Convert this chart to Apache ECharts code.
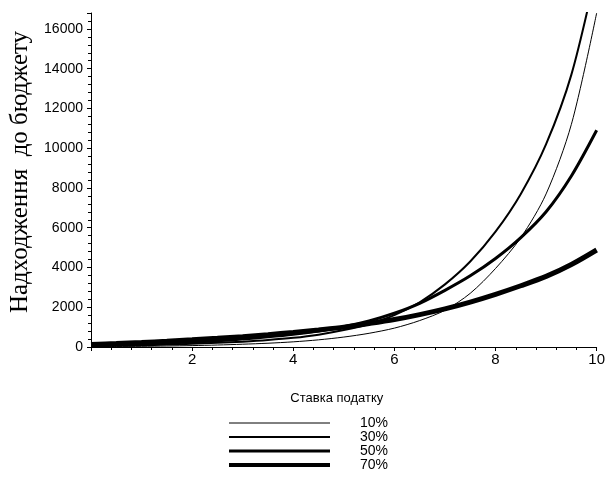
<!DOCTYPE html>
<html>
<head>
<meta charset="utf-8">
<script src="https://cdn.jsdelivr.net/npm/echarts@6/dist/echarts.min.js"></script>
<style>
html,body{margin:0;padding:0;background:#fff;}
#c{width:608px;height:477px;}
</style>
</head>
<body>
<div id="c"></div>
<script>
// x values
var xs = [0, 0.5, 1, 1.5, 2, 2.5, 3, 3.5, 4, 4.5, 5, 5.5, 6, 6.5, 7, 7.5, 8, 8.5, 9, 9.5, 10];
// series values
var s10 = [20, 27, 35, 50, 70, 100, 140, 190, 260, 360, 500, 690, 950, 1330, 1850, 2700, 3950, 5500, 7700, 11200, 16800];
var s30 = [50, 67, 90, 120, 160, 210, 270, 350, 460, 620, 850, 1160, 1600, 2250, 3150, 4300, 5800, 7700, 10200, 13700, 19000];
var s50 = [100, 127, 160, 200, 250, 315, 400, 510, 640, 810, 1020, 1310, 1700, 2200, 2850, 3580, 4450, 5500, 6800, 8600, 10900];
var s70 = [130, 170, 225, 290, 360, 435, 520, 620, 730, 860, 1000, 1180, 1380, 1630, 1920, 2260, 2650, 3080, 3550, 4150, 4880];
var seriesNames = ['10%', '30%', '50%', '70%'];
var seriesData = [s10, s30, s50, s70];
var lineWidths = [1, 2, 3, 5];
var legendWidths = [1, 2, 3, 4];
var xTicks = [0, 2, 4, 6, 8, 10];
var yTicks = [0, 2000, 4000, 6000, 8000, 10000, 12000, 14000, 16000];
var yAxisTitle = 'Надходження  до бюджету';
var xAxisTitle = 'Ставка податку';

var sans = "'Liberation Sans', Arial, sans-serif";

function pairs(arr) {
  return xs.map(function (x, i) { return [x, arr[i]]; });
}

var chart = echarts.init(document.getElementById('c'), null, {renderer: 'canvas'});
var option = {
  backgroundColor: '#ffffff',
  animation: false,
  grid: {left: 91, right: 11, top: 13, bottom: 130, containLabel: false},
  legend: {
    orient: 'vertical',
    left: 227,
    top: 416,
    height: 60,
    padding: 0,
    itemWidth: 101,
    itemHeight: 10,
    itemGap: 0,
    data: seriesNames.map(function (n, i) {
      return {
        name: n,
        itemStyle: {opacity: 0, borderWidth: 0},
        lineStyle: {color: '#000', width: legendWidths[i], opacity: 1}
      };
    }),
    textStyle: {
      color: '#000', fontFamily: sans, fontSize: 14,
      padding: [0, 0, 0, 25]
    }
  },
  xAxis: {
    type: 'value',
    min: 0, max: 10, interval: 2,
    name: xAxisTitle,
    nameLocation: 'middle',
    nameGap: 45,
    nameTextStyle: {color: '#000', fontFamily: sans, fontSize: 13, padding: [0, 14, 0, 0]},
    axisLine: {show: true, onZero: false, lineStyle: {color: '#000', width: 1}},
    axisTick: {show: true, length: 4, lineStyle: {color: '#000'}},
    minorTick: {show: true, splitNumber: 5, length: 3, lineStyle: {color: '#000'}},
    splitLine: {show: false},
    axisLabel: {
      color: '#000', fontFamily: sans, fontSize: 15, margin: 5, showMinLabel: false,
      formatter: function (v) { return xTicks.indexOf(v) >= 0 ? String(v) : ''; }
    }
  },
  yAxis: {
    type: 'value',
    min: 0, max: 16800, interval: 2000,
    name: yAxisTitle,
    nameLocation: 'middle',
    nameGap: 58,
    nameRotate: 90,
    nameTextStyle: {color: '#000', fontFamily: "'Liberation Serif', 'Times New Roman', serif", fontSize: 25, padding: [0, 0, 0, 16]},
    axisLine: {show: true, onZero: false, lineStyle: {color: '#000', width: 1}},
    axisTick: {show: true, length: 4, lineStyle: {color: '#000'}},
    minorTick: {show: true, splitNumber: 5, length: 3, lineStyle: {color: '#000'}},
    splitLine: {show: false},
    axisLabel: {
      color: '#000', fontFamily: sans, fontSize: 14, margin: 8, showMaxLabel: false,
      formatter: function (v) { return yTicks.indexOf(v) >= 0 ? String(v) : ''; }
    }
  },
  series: seriesNames.map(function (n, i) {
    return {
      name: n,
      type: 'line',
      data: pairs(seriesData[i]),
      smooth: 0.3,
      symbol: 'none',
      showSymbol: false,
      clip: true,
      lineStyle: {color: '#000', width: lineWidths[i]},
      itemStyle: {color: '#000'}
    };
  })
};
chart.setOption(option);
</script>
</body>
</html>
